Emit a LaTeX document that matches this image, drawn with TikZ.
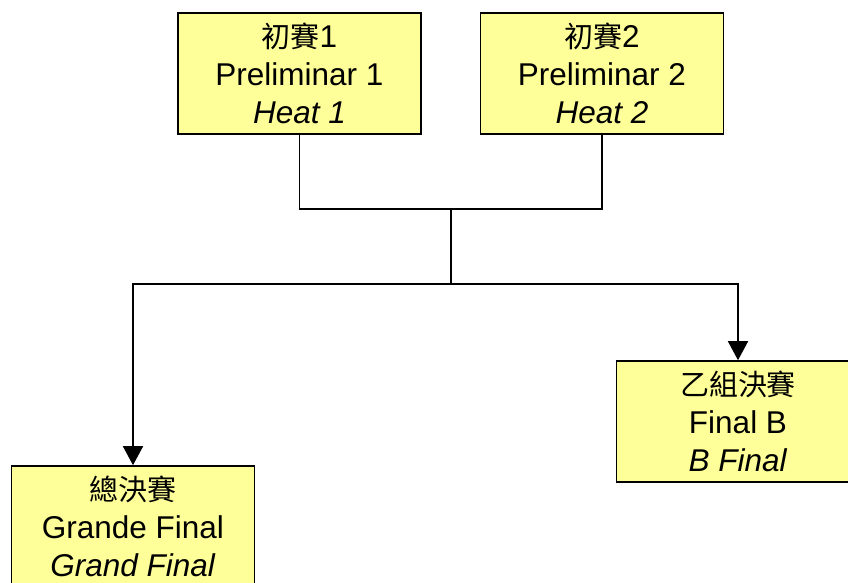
\documentclass[tikz,border=0pt]{standalone}
\usepackage{fontspec}
\setmainfont{Liberation Sans}
\newfontfamily\cjk[Scale=0.92]{Noto Sans CJK TC}
\usetikzlibrary{arrows.meta}
\definecolor{boxfill}{HTML}{FFFF99}
\tikzset{
  stagebox/.style={draw=black, line width=1.6pt, fill=boxfill, minimum width=243pt, minimum height=121pt,
    align=center, inner sep=0pt, font=\fontsize{31.5}{38}\selectfont},
  link/.style={draw=black, line width=1.6pt},
  arrowlink/.style={link, -{Triangle[width=20pt,length=19pt]}}
}
\begin{document}
\begin{tikzpicture}[x=1pt,y=-1pt]
\useasboundingbox (0,0) rectangle (848,583);
\node[stagebox] (h1) at (299.5,73.5) {{\cjk 初賽}1\\Preliminar 1\\\textit{Heat 1}};
\node[stagebox] (h2) at (602,73.5) {{\cjk 初賽}2\\Preliminar 2\\\textit{Heat 2}};
\node[stagebox] (fb) at (738,421.5) {{\cjk 乙組決賽}\\Final B\\\textit{B Final}};
\node[stagebox] (gf) at (133,526.5) {{\cjk 總決賽}\\Grande Final\\\textit{Grand Final}};
\coordinate (j1) at (451,209);
\coordinate (j2) at (451,284);
\draw[link] (h1.south) |- (j1);
\draw[link] (h2.south) |- (j1);
\draw[link] (j1) -- (j2);
\draw[arrowlink] (j2) -| (gf.north);
\draw[arrowlink] (j2) -| (fb.north);
\end{tikzpicture}
\end{document}
